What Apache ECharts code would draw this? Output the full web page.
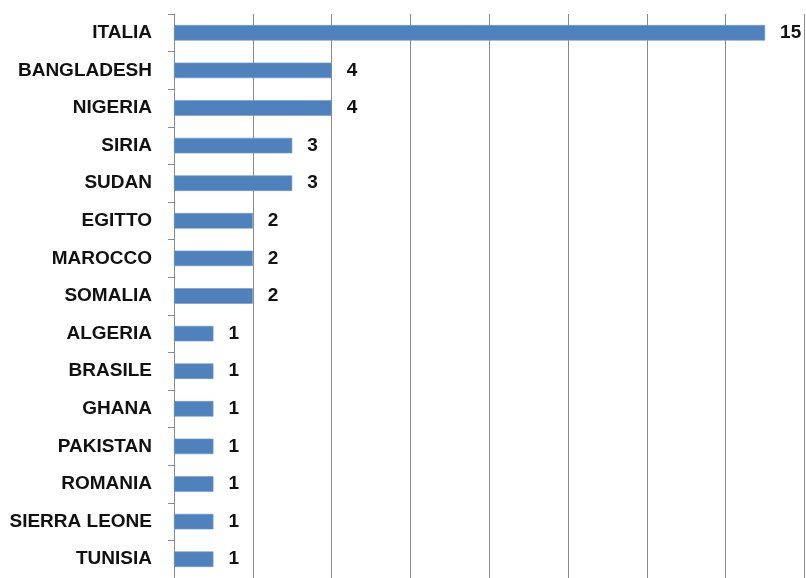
<!DOCTYPE html>
<html>
<head>
<meta charset="utf-8">
<style>
  html, body { margin: 0; padding: 0; background: #fff; }
  #chart { width: 806px; height: 578px; }
</style>
<script src="https://cdn.jsdelivr.net/npm/echarts@6/dist/echarts.min.js"></script>
</head>
<body>
<div id="chart"></div>
<script>
// Countries, listed top to bottom
const countries = [
  'ITALIA', 'BANGLADESH', 'NIGERIA', 'SIRIA', 'SUDAN', 'EGITTO', 'MAROCCO',
  'SOMALIA', 'ALGERIA', 'BRASILE', 'GHANA', 'PAKISTAN', 'ROMANIA',
  'SIERRA LEONE', 'TUNISIA'
];
// Count per country
const counts = [15, 4, 4, 3, 3, 2, 2, 2, 1, 1, 1, 1, 1, 1, 1];

// Value axis range
const axisMin = 0;
const axisMax = 16;
const axisStep = 2;

const labelFont = {
  fontFamily: '"Liberation Sans", Arial, sans-serif',
  fontWeight: 'bold',
  fontSize: 19,
  color: '#111'
};

const chart = echarts.init(document.getElementById('chart'), null, { renderer: 'canvas' });
chart.setOption({
  animation: false,
  backgroundColor: '#fff',
  grid: { left: 174, top: 14, width: 630.5, height: 565.5, containLabel: false },
  xAxis: {
    type: 'value',
    min: axisMin,
    max: axisMax,
    interval: axisStep,
    axisLabel: { show: false },
    axisTick: { show: false },
    axisLine: { show: false },
    splitLine: { show: true, lineStyle: { color: '#8a8a8a', width: 1 } }
  },
  yAxis: {
    type: 'category',
    inverse: true,
    data: countries,
    axisLine: { show: true, lineStyle: { color: '#8a8a8a', width: 1 } },
    axisTick: { show: true, length: 6, lineStyle: { color: '#8a8a8a' } },
    axisLabel: Object.assign({ margin: 22 }, labelFont),
    splitLine: { show: false }
  },
  series: [{
    type: 'bar',
    data: counts,
    barWidth: 15.5,
    itemStyle: { color: '#4f81bd', borderColor: '#6d97cb', borderWidth: 0.6 },
    label: Object.assign({ show: true, position: 'right', distance: 15 }, labelFont)
  }]
});
</script>
</body>
</html>
